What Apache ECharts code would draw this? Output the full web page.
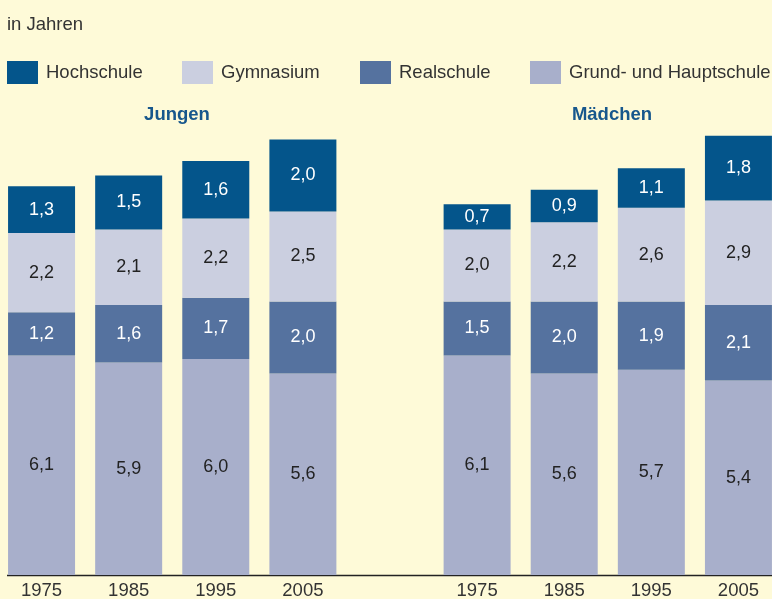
<!DOCTYPE html>
<html>
<head>
<meta charset="utf-8">
<script src="https://cdn.jsdelivr.net/npm/echarts@6/dist/echarts.min.js"></script>
<style>
  html, body { margin: 0; padding: 0; background: #fefad8; overflow: hidden; }
  /* chart is a bit wider than the window so the outer bars sit at the edges */
  #chart { width: 784px; height: 599px; margin-left: -2px; }
</style>
</head>
<body>
<div id="chart"></div>
<script>
// Jungen 1975..2005, empty gap, Mädchen 1975..2005
const years = ['1975', '1985', '1995', '2005', '', '1975', '1985', '1995', '2005'];
const hochschule = [1.3, 1.5, 1.6, 2.0, null, 0.7, 0.9, 1.1, 1.8];
const gymnasium = [2.2, 2.1, 2.2, 2.5, null, 2.0, 2.2, 2.6, 2.9];
const realschule = [1.2, 1.6, 1.7, 2.0, null, 1.5, 2.0, 1.9, 2.1];
const grundHaupt = [6.1, 5.9, 6.0, 5.6, null, 6.1, 5.6, 5.7, 5.4];

const font = 'Liberation Sans, Arial, sans-serif';
const textSize = 18.5;
const chart = echarts.init(document.getElementById('chart'));

function commaLabel(p) {
    return p.value == null ? '' : p.value.toFixed(1).replace('.', ',');
}

function barSeries(name, data, color, labelColor) {
    return {
        name: name,
        type: 'bar',
        stack: 'total',
        data: data,
        barWidth: 67,
        itemStyle: { color: color },
        label: {
            show: true,
            position: 'inside',
            color: labelColor,
            fontFamily: font,
            fontSize: 18,
            formatter: commaLabel
        },
        emphasis: { disabled: true }
    };
}

function legendAt(name, left) {
    return {
        data: [name],
        left: left,
        top: 56,
        itemWidth: 31,
        itemHeight: 23,
        itemGap: 0,
        icon: 'rect',
        selectedMode: false,
        textStyle: { color: '#333', fontSize: textSize, fontFamily: font, padding: [0, 0, 0, 3] }
    };
}

chart.setOption({
    backgroundColor: '#fefad8',
    animation: false,
    title: [
        { text: 'in Jahren', left: 4, top: 10, textStyle: { color: '#333', fontSize: textSize, fontWeight: 'normal', fontFamily: font } },
        { text: 'Jungen', left: 174, top: 100, textAlign: 'center', textStyle: { color: '#17578c', fontSize: textSize, fontWeight: 'bold', fontFamily: font } },
        { text: 'Mädchen', left: 609, top: 100, textAlign: 'center', textStyle: { color: '#17578c', fontSize: textSize, fontWeight: 'bold', fontFamily: font } }
    ],
    legend: [
        legendAt('Hochschule', 4),
        legendAt('Gymnasium', 179),
        legendAt('Realschule', 357),
        legendAt('Grund- und Hauptschule', 527)
    ],
    grid: { left: 0, right: 0, top: 71, bottom: 24, outerBoundsMode: 'none', containLabel: false },
    xAxis: {
        type: 'category',
        data: years,
        axisLine: { show: false },
        axisTick: { show: false },
        axisLabel: { color: '#333', fontSize: textSize, fontFamily: font, margin: 6 }
    },
    yAxis: {
        type: 'value',
        min: 0,
        max: 14,
        show: false,
        splitLine: { show: false }
    },
    series: [
        barSeries('Grund- und Hauptschule', grundHaupt, '#a8afcb', '#222'),
        barSeries('Realschule', realschule, '#55729f', '#fff'),
        barSeries('Gymnasium', gymnasium, '#cbcfe0', '#222'),
        barSeries('Hochschule', hochschule, '#04558b', '#fff')
    ],
    graphic: [
        { type: 'line', shape: { x1: 9, y1: 575.5, x2: 784, y2: 575.5 }, style: { stroke: '#222', lineWidth: 1.5 } }
    ]
});
</script>
</body>
</html>
